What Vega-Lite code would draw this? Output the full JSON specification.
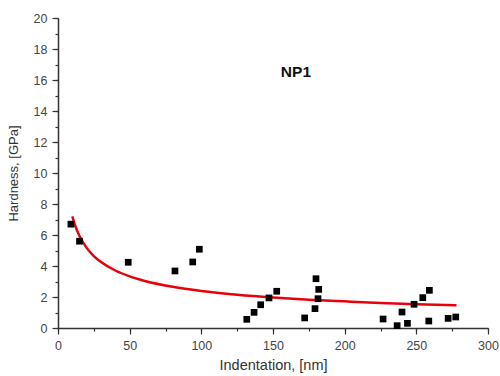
{
  "$schema": "https://vega.github.io/schema/vega-lite/v6.json",
  "width": 430,
  "height": 310,
  "autosize": {"type": "none"},
  "padding": {"left": 58, "top": 18, "right": 12, "bottom": 48},
  "background": "white",
  "config": {
    "view": {"stroke": null},
    "font": "Liberation Sans",
    "axis": {
      "grid": false,
      "domainColor": "#333",
      "domainWidth": 1.5,
      "tickColor": "#333",
      "tickWidth": 1.2,
      "labelColor": "#444",
      "labelFont": "Liberation Sans",
      "labelFontSize": 12.5,
      "titleFont": "Liberation Sans",
      "titleFontWeight": "normal",
      "titleColor": "#333"
    }
  },
  "datasets": {
    "points": [
      {"indentation": 9, "hardness": 6.7},
      {"indentation": 15, "hardness": 5.6},
      {"indentation": 49, "hardness": 4.24},
      {"indentation": 81.6, "hardness": 3.68},
      {"indentation": 94, "hardness": 4.26},
      {"indentation": 98.6, "hardness": 5.08},
      {"indentation": 131.7, "hardness": 0.56},
      {"indentation": 136.8, "hardness": 1.01},
      {"indentation": 141.4, "hardness": 1.5},
      {"indentation": 147.2, "hardness": 1.94},
      {"indentation": 152.6, "hardness": 2.37},
      {"indentation": 172.1, "hardness": 0.65},
      {"indentation": 179.3, "hardness": 1.25},
      {"indentation": 180, "hardness": 3.18},
      {"indentation": 181.9, "hardness": 2.49},
      {"indentation": 181.4, "hardness": 1.89},
      {"indentation": 226.8, "hardness": 0.58},
      {"indentation": 236.6, "hardness": 0.15},
      {"indentation": 240, "hardness": 1.03},
      {"indentation": 243.8, "hardness": 0.3},
      {"indentation": 248.4, "hardness": 1.53},
      {"indentation": 254.5, "hardness": 1.96},
      {"indentation": 259.1, "hardness": 2.43},
      {"indentation": 258.7, "hardness": 0.45},
      {"indentation": 272.2, "hardness": 0.62},
      {"indentation": 277.5, "hardness": 0.71}
    ],
    "fit": [
      {"indentation": 10, "hardness": 7.2},
      {"indentation": 12, "hardness": 6.6},
      {"indentation": 15, "hardness": 5.93},
      {"indentation": 20, "hardness": 5.17},
      {"indentation": 25, "hardness": 4.64},
      {"indentation": 30, "hardness": 4.26},
      {"indentation": 40, "hardness": 3.71},
      {"indentation": 50, "hardness": 3.33},
      {"indentation": 60, "hardness": 3.05},
      {"indentation": 80, "hardness": 2.66},
      {"indentation": 100, "hardness": 2.39},
      {"indentation": 125, "hardness": 2.15},
      {"indentation": 150, "hardness": 1.97},
      {"indentation": 175, "hardness": 1.83},
      {"indentation": 200, "hardness": 1.72},
      {"indentation": 225, "hardness": 1.62},
      {"indentation": 250, "hardness": 1.54},
      {"indentation": 278, "hardness": 1.47}
    ]
  },
  "layer": [
    {
      "data": {"name": "fit"},
      "mark": {"type": "line", "color": "#e8000b", "strokeWidth": 2.5, "interpolate": "monotone"},
      "encoding": {
        "x": {
          "field": "indentation", "type": "quantitative",
          "scale": {"domain": [0, 300], "nice": false},
          "axis": {
            "title": "Indentation, [nm]",
            "titleFontSize": 14.5,
            "values": [0, 50, 100, 150, 200, 250, 300],
            "labelOverlap": false,
            "labelFlush": false,
            "tickSize": 6,
            "labelPadding": 5,
            "titlePadding": 7
          }
        },
        "y": {
          "field": "hardness", "type": "quantitative",
          "scale": {"domain": [0, 20], "nice": false},
          "axis": {
            "title": "Hardness, [GPa]",
            "titleFontSize": 13,
            "values": [0, 2, 4, 6, 8, 10, 12, 14, 16, 18, 20],
            "labelOverlap": false,
            "labelFlush": false,
            "tickSize": 6,
            "labelPadding": 5,
            "titlePadding": 13
          }
        }
      }
    },
    {
      "data": {"name": "points"},
      "mark": {"type": "square", "color": "black", "opacity": 1, "size": 45},
      "encoding": {
        "x": {"field": "indentation", "type": "quantitative", "axis": {"orient": "bottom", "values": [0, 25, 50, 75, 100, 125, 150, 175, 200, 225, 250, 275, 300], "labels": false, "title": null, "tickSize": 3, "domain": false}},
        "y": {"field": "hardness", "type": "quantitative", "axis": {"orient": "left", "values": [0, 1, 2, 3, 4, 5, 6, 7, 8, 9, 10, 11, 12, 13, 14, 15, 16, 17, 18, 19, 20], "labels": false, "title": null, "tickSize": 3, "domain": false}}
      }
    },
    {
      "data": {"values": [{"label": "NP1"}]},
      "mark": {"type": "text", "fontWeight": "bold", "fontSize": 15.5, "font": "Liberation Sans", "color": "#111"},
      "encoding": {
        "x": {"datum": 166, "type": "quantitative", "axis": null},
        "y": {"datum": 16.5, "type": "quantitative", "axis": null},
        "text": {"field": "label"}
      }
    }
  ],
  "resolve": {"axis": {"x": "independent", "y": "independent"}}
}
